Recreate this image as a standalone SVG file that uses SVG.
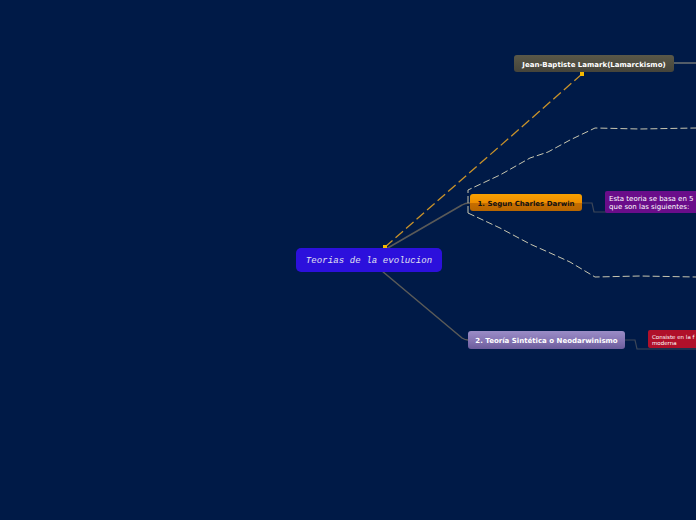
<svg xmlns="http://www.w3.org/2000/svg" width="696" height="520" viewBox="0 0 696 520">
<defs>
<linearGradient id="gOrange" x1="0" y1="0" x2="0" y2="1"><stop offset="0" stop-color="#f7a000"/><stop offset="0.5" stop-color="#ee8e00"/><stop offset="0.55" stop-color="#c66e00"/><stop offset="1" stop-color="#b86600"/></linearGradient>
<linearGradient id="gGray" x1="0" y1="0" x2="0" y2="1"><stop offset="0" stop-color="#5a5848"/><stop offset="1" stop-color="#45443a"/></linearGradient>
<linearGradient id="gLav" x1="0" y1="0" x2="0" y2="1"><stop offset="0" stop-color="#9a8cc6"/><stop offset="0.5" stop-color="#8676b4"/><stop offset="1" stop-color="#6c5c9c"/></linearGradient>
<style>
.lbl{font-family:"DejaVu Sans",Verdana,sans-serif;font-weight:bold;font-size:7px;text-anchor:middle}
.small{font-family:"DejaVu Sans",Verdana,sans-serif;font-size:7px;fill:#ffffff}
.tiny{font-family:"DejaVu Sans",Verdana,sans-serif;font-size:5.5px;fill:#ffffff}
.dash{fill:none;stroke:#c8c6b0;stroke-width:1;stroke-dasharray:7,3}
.conn{fill:none;stroke:#5a5a58;stroke-width:1.5}
.thin{fill:none;stroke:#3c4658;stroke-width:1.2}
</style>
</defs>
<rect width="696" height="520" fill="#001a47"/>
<g id="connectors">
<path class="conn" d="M386,249 L462,205 Q465,203 470,203"/>
<path class="conn" d="M382,271 L462,338 Q465,340 468,340"/>
<path d="M385,247 L582,74" fill="none" stroke="#c8922a" stroke-width="1.3" stroke-dasharray="10,4"/>
<rect x="383" y="245" width="4" height="4" fill="#f5b800"/>
<rect x="580" y="72" width="4" height="4" fill="#f5b800"/>
<path class="dash" d="M468,213 L468,190 L500,175 L530,158 L548,152 L570,140 L595,128 L640,129 L696,128"/>
<path class="dash" d="M468,213 L500,228 L530,244 L548,252 L570,262 L595,277 L640,276 L696,277"/>
<path class="thin" d="M582,203 L592,203 L594,212 L696,212"/>
<path class="thin" d="M625,340 L635,340 L637,349 L696,349"/>
<path d="M674,63 L696,63" fill="none" stroke="#8a8a80" stroke-width="1.2"/>
</g>
<g id="root">
<rect x="296" y="248" width="146" height="24" rx="5" fill="#2c10dc"/>
<text x="369" y="263" font-family="'Liberation Mono','Courier New',monospace" font-style="italic" font-size="9" letter-spacing="0.1" fill="#e0e0f0" text-anchor="middle">Teorias de la evolucion</text>
</g>
<g id="lamarck">
<rect x="514" y="55" width="160" height="17" rx="3" fill="url(#gGray)"/>
<text class="lbl" x="594" y="66.5" fill="#ffffff">Jean-Baptiste Lamark(Lamarckismo)</text>
</g>
<g id="darwin">
<rect x="470" y="194" width="112" height="17" rx="3" fill="url(#gOrange)"/>
<text class="lbl" x="526" y="205.5" fill="#111111">1. Segun Charles Darwin</text>
</g>
<g id="darwin-note">
<rect x="605" y="191" width="95" height="22" rx="2" fill="#6a0d8a"/>
<text class="small" x="609" y="200.5">Esta teoria se basa en 5</text>
<text class="small" x="609" y="209">que son las siguientes:</text>
</g>
<g id="sintetica">
<rect x="468" y="331" width="157" height="18" rx="3" fill="url(#gLav)"/>
<text class="lbl" x="546.5" y="342.5" fill="#ffffff">2. Teoría Sintética o Neodarwinismo</text>
</g>
<g id="sintetica-note">
<rect x="648" y="330" width="52" height="18" rx="2" fill="#b0102a"/>
<text class="tiny" x="652" y="338.5">Consiste en la f</text>
<text class="tiny" x="652" y="345">moderna</text>
</g>
</svg>
